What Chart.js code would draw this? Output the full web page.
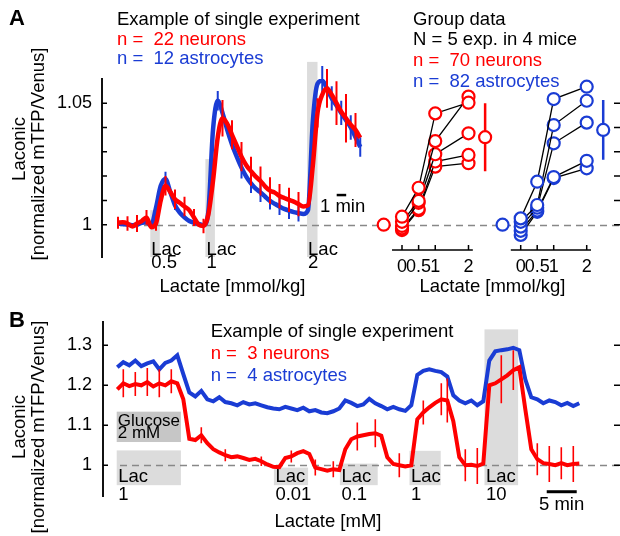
<!DOCTYPE html>
<html>
<head>
<meta charset="utf-8">
<title>Laconic responses to lactate</title>
<script src="https://cdn.jsdelivr.net/npm/chart.js@4.4.1/dist/chart.umd.min.js"></script>
<style>
  html, body { margin: 0; background: #fff; }
  #fig { position: relative; width: 620px; height: 536px; overflow: hidden; font-family: 'Liberation Sans', Arial, sans-serif; }
  #fig canvas { position: absolute; }
  .t { position: absolute; line-height: 1; white-space: pre; color: #000; }
</style>
</head>
<body>
<div id="fig">
  <canvas id="traceA" width="375" height="300" style="left:0;top:0"></canvas>
  <canvas id="groupN" width="120" height="300" style="left:375px;top:0"></canvas>
  <canvas id="groupA" width="125" height="300" style="left:495px;top:0"></canvas>
  <canvas id="traceB" width="620" height="236" style="left:0;top:300px"></canvas>
</div>
<script>
const RED = '#ff0000';
const BLUE = '#1a3cd4';
const FONT = "'Liberation Sans', Arial, sans-serif";

// Panel A, single experiment (minutes from start of recording)
const tA = [0, 0.5, 1, 1.5, 2, 2.5, 3, 3.5, 4, 4.5,
  5, 5.5, 6, 6.5, 7, 7.5, 8, 8.5, 9, 9.5,
  10, 10.5, 11, 11.5, 12, 12.5, 13, 13.5, 14, 14.5,
  15, 15.5, 16, 16.5, 17, 17.5, 18, 18.5, 19, 19.5,
  20, 20.5, 21, 21.5, 22, 22.5, 23, 23.5, 24, 24.5,
  25, 25.5];
const neuronA = [1.0008, 1.0010, 1.0005, 0.9993, 1.0005, 1.0015, 1.0030, 0.9990, 1.0005, 1.0100,
  1.0160, 1.0135, 1.0105, 1.0090, 1.0075, 1.0060, 1.0030, 1.0000, 0.9995, 1.0040,
  1.0180, 1.0360, 1.0438, 1.0415, 1.0370, 1.0325, 1.0280, 1.0245, 1.0220, 1.0198,
  1.0180, 1.0157, 1.0140, 1.0132, 1.0118, 1.0110, 1.0102, 1.0095, 1.0085, 1.0075,
  1.0080, 1.0240, 1.0460, 1.0535, 1.0561, 1.0535, 1.0500, 1.0465, 1.0438, 1.0412,
  1.0390, 1.0358];
const astroA = [1.0005, 1.0003, 1.0000, 0.9998, 1.0000, 1.0008, 1.0010, 0.9998, 1.0070, 1.0160,
  1.0188, 1.0135, 1.0080, 1.0050, 1.0030, 1.0015, 1.0008, 1.0003, 0.9998, 1.0050,
  1.0390, 1.0510, 1.0460, 1.0390, 1.0330, 1.0280, 1.0235, 1.0198, 1.0170, 1.0148,
  1.0133, 1.0115, 1.0098, 1.0086, 1.0075, 1.0065, 1.0058, 1.0052, 1.0048, 1.0044,
  1.0060, 1.0420, 1.0580, 1.0593, 1.0560, 1.0520, 1.0490, 1.0460, 1.0430, 1.0400,
  1.0360, 1.0320];
const neuronAErrAt = [0, 1, 2, 3, 4, 5, 6, 7, 8, 9, 11, 12, 13, 14, 15, 16, 17, 18, 19, 21, 22, 23, 24, 25];
const neuronAErr = [0.0025, 0.003, 0.0035, 0.003, 0.003, 0.004, 0.004, 0.004, 0.0035, 0.003, 0.0075, 0.006,
  0.006, 0.006, 0.006, 0.0055, 0.005, 0.005, 0.005, 0.006, 0.008, 0.009, 0.01, 0.007];
const astroAErrAt = [5, 6, 10.5, 13, 14, 15, 16, 17, 18, 19, 21.5, 22.5, 23.5, 24.5, 25.5];
const astroAErr = [0.003, 0.002, 0.004, 0.0045, 0.004, 0.004, 0.0035, 0.0035, 0.0035, 0.0035, 0.006, 0.005, 0.005, 0.005, 0.004];
const lacAStart = [3.4, 9.2, 19.9];
const lacAEnd = [4.4, 10.2, 21.0];
const lacATop = [1.006, 1.027, 1.067];
const lacADose = ['0.5', '1', '2'];
const yTicksA = [1, 1.01, 1.02, 1.03, 1.04, 1.05];
const yLabelsA = ['1', '', '', '', '', '1.05'];

// Panel A, group data (one row per experiment, values at each dose)
const doses = [0, 0.5, 1, 2];
const doseLabels = ['0', '0.5', '1', '2'];
const neuronGroup = [
  [1.0033, 1.0152, 1.0458, 1.0502],
  [1.0012, 1.0098, 1.0344, 1.0527],
  [0.9995, 1.0090, 1.0290, 1.0376],
  [0.9985, 1.0065, 1.0260, 1.0287],
  [0.9978, 1.0060, 1.0239, 1.0253]
];
const astroGroup = [
  [1.0026, 1.0177, 1.0517, 1.0568],
  [1.0012, 1.0081, 1.0410, 1.0510],
  [0.9992, 1.0070, 1.0335, 1.0420],
  [0.9975, 1.0058, 1.0196, 1.0263],
  [0.9958, 1.0053, 1.0192, 1.0232]
];
const meanX = [-0.55, 2.5];
const neuronMean = [1.0, 1.036];
const neuronMeanErr = [0.0022, 0.014];
const astroMean = [1.0, 1.039];
const astroMeanErr = [0.002, 0.0123];
const groupAxis = [-0.3, 2.13];

// Panel B, single experiment (minutes)
const tB = [0, 1, 2, 3, 4, 5, 6, 7, 8, 9, 10, 11, 12, 13, 14, 15, 16, 17, 18, 19,
  20, 21, 22, 23, 24, 25, 26, 27, 28, 29, 30, 31, 32, 33, 34, 35, 36, 37, 38, 39,
  40, 41, 42, 43, 44, 45, 46, 47, 48, 49, 50, 51, 52, 53, 54, 55, 56, 57, 58, 59,
  60, 61, 62, 63, 64, 65, 66, 67, 68, 69, 70, 71, 72, 73, 74, 75, 76, 77];
const neuronB = [1.190, 1.205, 1.198, 1.203, 1.200, 1.208, 1.197, 1.205, 1.200, 1.210,
  1.205, 1.165, 1.066, 1.063, 1.075, 1.055, 1.040, 1.032, 1.025, 1.020,
  1.022, 1.018, 1.013, 1.016, 1.010, 1.002, 0.996, 0.995, 1.018, 1.022,
  1.030, 1.035, 1.028, 0.994, 0.990, 0.986, 0.990, 0.988, 1.040, 1.065,
  1.072, 1.075, 1.078, 1.080, 1.074, 1.020, 1.003, 1.000, 0.997, 1.000,
  1.115, 1.132, 1.145, 1.156, 1.165, 1.162, 1.110, 1.020, 1.000, 1.001,
  0.998, 1.004, 1.200, 1.205, 1.215, 1.225, 1.238, 1.245, 1.140, 1.040,
  1.015, 1.005, 1.003, 1.000, 1.005, 1.000, 1.003, 1.004];
const astroB = [1.245, 1.258, 1.250, 1.262, 1.248, 1.255, 1.260, 1.240, 1.256, 1.262,
  1.275, 1.228, 1.182, 1.172, 1.186, 1.165, 1.160, 1.170, 1.158, 1.155,
  1.150, 1.158, 1.152, 1.155, 1.150, 1.145, 1.142, 1.140, 1.146, 1.142,
  1.138, 1.144, 1.135, 1.138, 1.132, 1.130, 1.135, 1.142, 1.162, 1.156,
  1.148, 1.152, 1.166, 1.155, 1.148, 1.140, 1.146, 1.140, 1.136, 1.150,
  1.226, 1.236, 1.240, 1.236, 1.233, 1.222, 1.175, 1.162, 1.155, 1.162,
  1.150, 1.160, 1.262, 1.285, 1.288, 1.290, 1.294, 1.288, 1.215, 1.170,
  1.165, 1.155, 1.162, 1.158, 1.150, 1.156, 1.148, 1.155];
const neuronBErrAt = [1, 3, 5, 7, 9, 14, 18, 24, 29, 33, 36, 40, 43, 47, 51, 54, 55, 58, 60, 64, 66, 70, 72, 74, 76];
const neuronBErr = [0.035, 0.03, 0.035, 0.035, 0.03, 0.02, 0.015, 0.012, 0.015, 0.02, 0.02, 0.035, 0.035,
  0.03, 0.03, 0.04, 0.055, 0.04, 0.045, 0.06, 0.05, 0.04, 0.045, 0.04, 0.045];
const lacBStart = [-0.1, 26.1, 37.1, 48.7, 61.2];
const lacBEnd = [10.6, 31.8, 43.4, 53.9, 66.8];
const lacBTop = [1.037, 0.994, 1.004, 1.036, 1.34];
const lacBBottom = 0.95;
const lacBDose = ['1', '0.01', '0.1', '1', '10'];
const glucoseSpan = [-0.1, 10.6];
const glucoseLevel = [1.058, 1.134];
const yTicksB = [1, 1.1, 1.2, 1.3];
const yLabelsB = ['1', '1.1', '1.2', '1.3'];

Chart.defaults.font.family = FONT;
Chart.defaults.color = '#000';
Chart.defaults.animation = false;
Chart.defaults.responsive = false;
Chart.defaults.events = [];
Chart.defaults.layout.autoPadding = false;
Chart.defaults.plugins.legend.display = false;
Chart.defaults.plugins.tooltip.enabled = false;

const series = (xs, ys, errAt, err) => xs.map((x, i) => {
  const k = errAt ? errAt.indexOf(x) : -1;
  return { x, y: ys[i], sem: k >= 0 ? err[k] : null };
});

// vertical error bars, drawn just before their own dataset
const errBars = {
  id: 'errBars',
  beforeDatasetDraw(chart, args) {
    const ds = chart.data.datasets[args.index];
    if (!ds.errWidth) return;
    const ys = chart.scales.y, ctx = chart.ctx;
    ctx.save();
    ctx.strokeStyle = ds.errColor;
    ctx.lineWidth = ds.errWidth;
    ctx.beginPath();
    args.meta.data.forEach((el, i) => {
      const d = ds.data[i];
      if (d.sem == null) return;
      ctx.moveTo(el.x, ys.getPixelForValue(d.y + d.sem));
      ctx.lineTo(el.x, ys.getPixelForValue(d.y - d.sem));
    });
    ctx.stroke();
    ctx.restore();
  }
};

// tick marks pointing into the plot, plus bare ticks on the right edge
const ticksIn = (o) => ({
  id: 'ticksIn',
  afterDraw(chart) {
    const ctx = chart.ctx, ca = chart.chartArea;
    ctx.save();
    ctx.strokeStyle = '#000';
    ctx.lineWidth = 1.5;
    ctx.beginPath();
    if (o.y) {
      const s = chart.scales.y;
      s.ticks.forEach(t => {
        const p = s.getPixelForValue(t.value);
        ctx.moveTo(s.right, p);
        ctx.lineTo(s.right + o.len, p);
      });
    }
    if (o.x) {
      const s = chart.scales.x;
      o.x.forEach(v => {
        const p = s.getPixelForValue(v);
        ctx.moveTo(p, ca.bottom);
        ctx.lineTo(p, ca.bottom - o.len);
      });
    }
    if (o.edge) {
      const s = chart.scales.y;
      o.edge.forEach(v => {
        const p = s.getPixelForValue(v);
        ctx.moveTo(chart.width - 6, p);
        ctx.lineTo(chart.width, p);
      });
    }
    ctx.stroke();
    ctx.restore();
  }
});

// shaded application boxes, their labels, dashed baseline, axis line and scale bar
const deco = (o) => ({
  id: 'deco',
  beforeDatasetsDraw(chart) {
    const { ctx, chartArea: ca } = chart;
    const xs = chart.scales.x, ys = chart.scales.y;
    ctx.save();
    (o.boxes || []).forEach(b => {
      const x0 = xs.getPixelForValue(b.x0), x1 = xs.getPixelForValue(b.x1);
      const y0 = ys.getPixelForValue(b.y0);
      const y1 = b.y1 == null ? ca.bottom : ys.getPixelForValue(b.y1);
      ctx.fillStyle = b.color;
      ctx.fillRect(x0, y0, x1 - x0, y1 - y0);
    });
    ctx.fillStyle = '#000';
    ctx.textBaseline = 'alphabetic';
    (o.labels || []).forEach(l => {
      ctx.font = (l.size || 18.5) + 'px ' + FONT;
      ctx.textAlign = l.align || 'left';
      const y = l.y == null ? ca.bottom : ys.getPixelForValue(l.y);
      ctx.fillText(l.text, xs.getPixelForValue(l.x) + l.dx, y + l.dy);
    });
    if (o.base) {
      const x0 = o.base.from == null ? 0 : xs.getPixelForValue(o.base.from);
      const y = Math.round(ys.getPixelForValue(1)) + 0.5;
      ctx.strokeStyle = '#888';
      ctx.lineWidth = 1.5;
      ctx.setLineDash([7, 5]);
      ctx.lineDashOffset = (x0 + o.base.pageX) % 12;
      ctx.beginPath();
      ctx.moveTo(x0, y);
      ctx.lineTo(chart.width, y);
      ctx.stroke();
      ctx.setLineDash([]);
    }
    if (o.axisLine) {
      ctx.strokeStyle = '#000';
      ctx.lineWidth = 1.5;
      ctx.beginPath();
      ctx.moveTo(xs.getPixelForValue(o.axisLine[0]), ca.bottom);
      ctx.lineTo(xs.getPixelForValue(o.axisLine[1]), ca.bottom);
      ctx.stroke();
    }
    if (o.bar) {
      const y = ys.getPixelForValue(o.bar.y);
      ctx.strokeStyle = '#000';
      ctx.lineWidth = o.bar.width;
      ctx.beginPath();
      ctx.moveTo(xs.getPixelForValue(o.bar.x0), y);
      ctx.lineTo(xs.getPixelForValue(o.bar.x0 + o.bar.len), y);
      ctx.stroke();
    }
    ctx.restore();
  }
});

function yAxis(min, max, ticks, labels, width, pad) {
  return {
    min, max,
    afterFit: s => { s.width = width; },
    afterBuildTicks: s => { s.ticks = ticks.map(v => ({ value: v })); },
    ticks: { autoSkip: false, padding: pad, color: '#000', font: { size: 18 }, callback: (v, i) => labels[i] },
    grid: { display: false, drawTicks: false },
    border: { display: true, color: '#111', width: 2 }
  };
}

// Panel A traces
new Chart(document.getElementById('traceA'), {
  type: 'line',
  data: {
    datasets: [
      { data: series(tA, neuronA, neuronAErrAt, neuronAErr), borderColor: RED, borderWidth: 4.5, pointRadius: 0,
        cubicInterpolationMode: 'monotone', errColor: RED, errWidth: 2 },
      { data: series(tA, astroA, astroAErrAt, astroAErr), borderColor: BLUE, borderWidth: 4.5, pointRadius: 0,
        cubicInterpolationMode: 'monotone', errColor: BLUE, errWidth: 2 }
    ]
  },
  options: {
    layout: { padding: { top: 79, bottom: 43, right: 3, left: 0 } },
    scales: {
      x: { type: 'linear', display: false, min: -1.684, max: 26.737 },
      y: yAxis(0.98671, 1.05996, yTicksA, yLabelsA, 102, 10)
    }
  },
  plugins: [errBars, ticksIn({ y: true, len: 5 }), deco({
    boxes: lacAStart.map((s, i) => ({ x0: s, x1: lacAEnd[i], y0: lacATop[i], color: '#dcdcdc' })),
    labels: lacAStart.flatMap((s, i) => [
      { text: 'Lac', x: s, dx: 1, dy: -2.5 },
      { text: lacADose[i], x: s, dx: 1, dy: 11 }
    ]),
    base: { from: -0.1, pageX: 0 },
    bar: { x0: 23.02, len: 1, y: 1.0122, width: 2.5 }
  })]
});

// Panel A group plots
function groupChart(id, group, color, mean, meanErr, xMin, xMax, pageX, edge) {
  const datasets = [{
    data: meanX.map((x, i) => ({ x, y: mean[i], sem: meanErr[i] })),
    showLine: false, pointRadius: 6, pointBorderWidth: 2.2, pointBorderColor: color,
    pointBackgroundColor: '#fff', errColor: color, errWidth: 2.5
  }].concat(group.map(vals => ({
    data: doses.map((d, i) => ({ x: d, y: vals[i] })),
    borderColor: '#000', borderWidth: 1.3, pointRadius: 6, pointBorderWidth: 2.2,
    pointBorderColor: color, pointBackgroundColor: '#fff', tension: 0
  })));
  return new Chart(document.getElementById(id), {
    type: 'line',
    data: { datasets },
    options: {
      layout: { padding: { top: 79, bottom: 50, left: 0, right: 0 } },
      scales: {
        x: { type: 'linear', display: false, min: xMin, max: xMax },
        y: { display: false, min: 0.98959, max: 1.05996 }
      }
    },
    plugins: [errBars, ticksIn({ x: doses, len: 5, edge }), deco({
      base: { from: null, pageX },
      axisLine: groupAxis,
      labels: doses.map((d, i) => ({ text: doseLabels[i], x: d, dx: 0, dy: 21.5, size: 18, align: 'center' }))
    })]
  });
}
groupChart('groupN', neuronGroup, RED, neuronMean, neuronMeanErr, -0.812, 2.797, 375, null);
groupChart('groupA', astroGroup, BLUE, astroMean, astroMeanErr, -0.779, 3.009, 495, yTicksA);

// Panel B traces
new Chart(document.getElementById('traceB'), {
  type: 'line',
  data: {
    datasets: [
      { data: series(tB, neuronB, neuronBErrAt, neuronBErr), borderColor: RED, borderWidth: 4, pointRadius: 0,
        tension: 0, errColor: RED, errWidth: 1.6 },
      { data: series(tB, astroB), borderColor: BLUE, borderWidth: 4, pointRadius: 0, tension: 0 }
    ]
  },
  options: {
    layout: { padding: { top: 20.7, bottom: 39.3, right: 8, left: 0 } },
    scales: {
      x: { type: 'linear', display: false, min: -2.383, max: 82.45 },
      y: yAxis(0.92114, 1.35896, yTicksB, yLabelsB, 103, 11)
    }
  },
  plugins: [errBars, ticksIn({ y: true, len: 5, edge: yTicksB }), deco({
    boxes: [{ x0: glucoseSpan[0], x1: glucoseSpan[1], y0: glucoseLevel[1], y1: glucoseLevel[0], color: '#c6c6c6' }]
      .concat(lacBStart.map((s, i) => ({ x0: s, x1: lacBEnd[i], y0: lacBTop[i], y1: lacBBottom, color: '#dcdcdc' }))),
    labels: [
      { text: 'Glucose', x: glucoseSpan[0], dx: 1, y: glucoseLevel[1], dy: 13.9, size: 17 },
      { text: '2 mM', x: glucoseSpan[0], dx: 1, y: glucoseLevel[1], dy: 26.2, size: 17 }
    ].concat(lacBStart.flatMap((s, i) => [
      { text: 'Lac', x: s, dx: 1.5, dy: -15 },
      { text: lacBDose[i], x: s, dx: 1.5, dy: 3.3 }
    ])),
    base: { from: -0.1, pageX: 0 },
    bar: { x0: 71.57, len: 5, y: 0.9336, width: 3 }
  })]
});

// free text
const fig = document.getElementById('fig');
function txt(s, x, base, o = {}) {
  const fs = o.size || 18.5;
  const d = document.createElement('div');
  d.className = 't';
  d.textContent = s;
  d.style.fontSize = fs + 'px';
  d.style.left = x + 'px';
  d.style.top = (base - 0.8465 * fs) + 'px';
  if (o.color) d.style.color = o.color;
  if (o.bold) d.style.fontWeight = 'bold';
  if (o.center) d.style.transform = 'translateX(-50%)';
  fig.appendChild(d);
}
function vtxt(s, base, cy) {
  const fs = 18.5;
  const d = document.createElement('div');
  d.className = 't';
  d.textContent = s;
  d.style.fontSize = fs + 'px';
  d.style.left = (base - 0.3465 * fs) + 'px';
  d.style.top = cy + 'px';
  d.style.transform = 'translate(-50%, -50%) rotate(-90deg)';
  fig.appendChild(d);
}

txt('A', 9, 26, { size: 22, bold: true });
txt('Example of single experiment', 117, 26);
txt('n =  22 neurons', 117, 45.7, { color: RED });
txt('n =  12 astrocytes', 117, 65, { color: BLUE });
txt('Group data', 413, 26);
txt('N = 5 exp. in 4 mice', 413, 46);
txt('n =  70 neurons', 413, 66.7, { color: RED });
txt('n =  82 astrocytes', 413, 87.3, { color: BLUE });
txt('1 min', 320, 213);
txt('Lactate [mmol/kg]', 232.5, 293, { center: true });
txt('Lactate [mmol/kg]', 492.5, 293, { center: true });
vtxt('Laconic', 25, 149);
vtxt('[normalized mTFP/Venus]', 44.5, 154);

txt('B', 9, 328, { size: 22, bold: true });
txt('Example of single experiment', 210.7, 337.3);
txt('n =  3 neurons', 210.7, 360, { color: RED });
txt('n =  4 astrocytes', 210.7, 381.7, { color: BLUE });
txt('Lactate [mM]', 328, 528, { center: true });
txt('5 min', 539, 510.5);
vtxt('Laconic', 25, 427);
vtxt('[normalized mTFP/Venus]', 44.5, 427);
</script>
</body>
</html>
